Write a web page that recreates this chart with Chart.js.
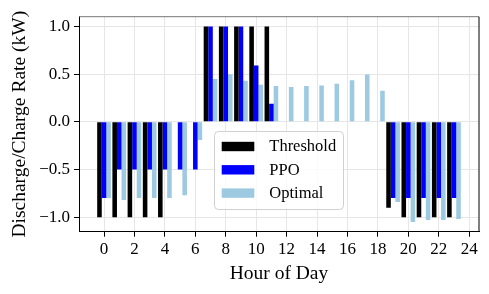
<!DOCTYPE html>
<html>
<head>
<meta charset="utf-8">
<script src="https://cdn.jsdelivr.net/npm/chart.js@4.4.0/dist/chart.umd.min.js"></script>
<style>
  html, body { margin: 0; padding: 0; background: #fff; }
  #wrap { width: 489px; height: 294px; }
</style>
</head>
<body>
<div id="wrap"><canvas id="chart" width="489" height="294"></canvas></div>
<script>
// hour of day (x categories)
const hours = [0, 1, 2, 3, 4, 5, 6, 7, 8, 9, 10, 11, 12, 13, 14, 15, 16, 17, 18, 19, 20, 21, 22, 23];

// discharge / charge rate (kW) per policy
const threshold = [-1, -1, -1, -1, -1, 0, 0, 1, 1, 1, 1, 1, 0, 0, 0, 0, 0, 0, 0, -0.9, -1, -1, -1, -1];
const ppo = [-0.8, -0.5, -0.5, -0.5, -0.5, -0.5, -0.5, 1, 1, 1, 0.59, 0.19, 0, 0, 0, 0, 0, 0, 0, -0.8, -0.8, -0.8, -0.8, -0.8];
const optimal = [-0.8, -0.82, -0.8, -0.8, -0.8, -0.77, -0.19, 0.45, 0.5, 0.43, 0.39, 0.375, 0.365, 0.375, 0.38, 0.4, 0.435, 0.495, 0.325, -0.84, -1.05, -1.03, -1.03, -1.02];

const xTicks = [0, 2, 4, 6, 8, 10, 12, 14, 16, 18, 20, 22, 24];
const yTicks = [-1, -0.5, 0, 0.5, 1];

const serif = "'Liberation Serif', 'Times New Roman', serif";

function points(vals) {
    return hours.map((h, i) => ({ x: h, y: vals[i] }));
}

// top + right spines (Chart.js only draws left/bottom)
const frame = {
    id: 'frame',
    afterDraw(chart) {
        const { ctx, chartArea: a } = chart;
        ctx.save();
        ctx.lineWidth = 1;
        ctx.strokeStyle = '#777';
        ctx.beginPath();
        ctx.moveTo(a.left, a.top);
        ctx.lineTo(a.right, a.top);
        ctx.stroke();
        ctx.strokeStyle = '#000';
        ctx.beginPath();
        ctx.moveTo(a.right, a.top);
        ctx.lineTo(a.right, a.bottom);
        ctx.stroke();
        ctx.restore();
    }
};

// legend box inside the plot, matplotlib style
const innerLegend = {
    id: 'innerLegend',
    afterDatasetsDraw(chart) {
        const ctx = chart.ctx;
        const x = 214, y = 131, w = 129, h = 78, r = 4;
        ctx.save();
        ctx.beginPath();
        ctx.roundRect(x + 0.5, y + 0.5, w, h, r);
        ctx.fillStyle = 'rgba(255,255,255,0.8)';
        ctx.fill();
        ctx.strokeStyle = '#d0d0d0';
        ctx.lineWidth = 1;
        ctx.stroke();
        ctx.font = '16.5px ' + serif;
        ctx.textBaseline = 'middle';
        chart.data.datasets.forEach((ds, i) => {
            const cy = 146.5 + i * 23.3;
            ctx.fillStyle = ds.backgroundColor;
            ctx.fillRect(221.7, cy - 4.7, 32.6, 9.4);
            ctx.fillStyle = '#000';
            ctx.fillText(ds.label, 269.3, cy + 0.5);
        });
        ctx.restore();
    }
};

const ctx = document.getElementById('chart').getContext('2d');
new Chart(ctx, {
    type: 'bar',
    data: {
        datasets: [
            { label: 'Threshold', data: points(threshold), backgroundColor: '#000000' },
            { label: 'PPO', data: points(ppo), backgroundColor: '#0000ff' },
            { label: 'Optimal', data: points(optimal), backgroundColor: '#9ecae1' }
        ]
    },
    options: {
        responsive: false,
        animation: false,
        devicePixelRatio: 1,
        categoryPercentage: 0.9,
        barPercentage: 1.0,
        borderWidth: 0,
        layout: { padding: { top: 16.7, right: 10, left: 0, bottom: 0 } },
        plugins: {
            legend: { display: false },
            tooltip: { enabled: false }
        },
        scales: {
            x: {
                type: 'linear',
                min: -1.645,
                max: 24.645,
                offset: false,
                afterBuildTicks: s => { s.ticks = xTicks.map(v => ({ value: v })); },
                afterFit: s => { s.height = 62.3; },
                grid: { offset: false, color: '#e6e6e6', tickColor: '#000', tickLength: 5 },
                border: { color: '#000', width: 1 },
                ticks: {
                    color: '#000', padding: 2.5, maxRotation: 0, autoSkip: false,
                    font: { family: serif, size: 17 }
                },
                title: {
                    display: true, text: 'Hour of Day', color: '#000',
                    font: { family: serif, size: 19.5 },
                    padding: { top: 0, bottom: 8.3 }
                }
            },
            y: {
                min: -1.1525,
                max: 1.1025,
                afterBuildTicks: s => { s.ticks = yTicks.map(v => ({ value: v })); },
                afterFit: s => { s.width = 79; },
                grid: { color: '#e6e6e6', tickColor: '#000', tickLength: 5 },
                border: { color: '#000', width: 1 },
                ticks: {
                    color: '#000', padding: 4,
                    font: { family: serif, size: 17 },
                    callback: v => (v < 0 ? '\u2212' : '') + Math.abs(v).toFixed(1)
                },
                title: {
                    display: true, text: 'Discharge/Charge Rate (kW)', color: '#000',
                    font: { family: serif, size: 19.5 },
                    padding: { top: 8.6, bottom: 0 }
                }
            }
        }
    },
    plugins: [frame, innerLegend]
});
</script>
</body>
</html>
